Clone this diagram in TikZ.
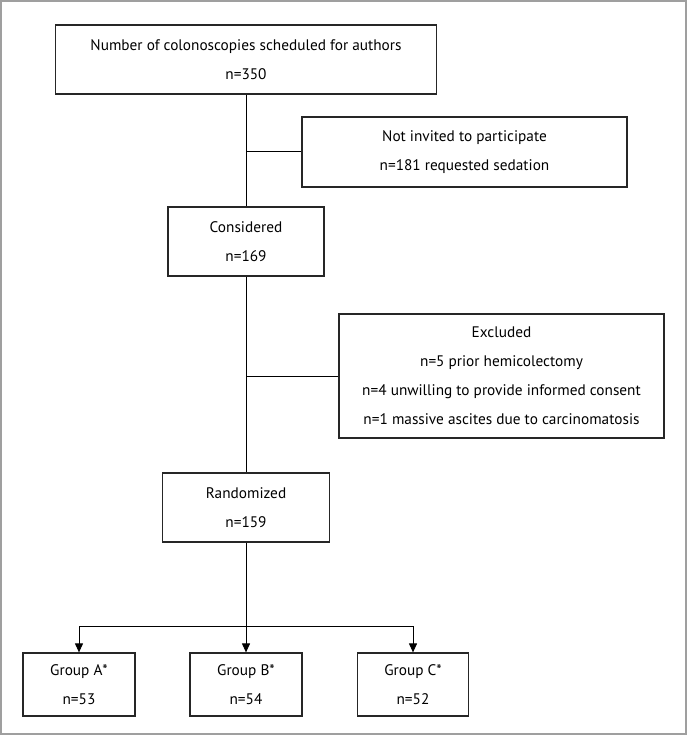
\documentclass[tikz,border=0pt]{standalone}
\usepackage{fontspec}
\setmainfont{PT Sans}
\usetikzlibrary{arrows.meta}
\begin{document}
\begin{tikzpicture}[x=1pt,y=-1pt,
    box/.style={draw=black!85,line width=1.2pt,fill=white,align=center,
      inner sep=0pt,font=\fontsize{15.3}{29}\selectfont},
    link/.style={line width=1pt},
    >={Triangle[length=9pt,width=8pt]}]
  \useasboundingbox (0,0) rectangle (688,735);
  \draw[gray!75,line width=1.5pt] (1,1) rectangle (686,734);
  % boxes
  \node[box,minimum width=381pt,minimum height=69pt] (sched) at (246,59.5)
    {Number of colonoscopies scheduled for authors\\n=350};
  \node[box,minimum width=325pt,minimum height=70pt] (notinv) at (464.5,152)
    {Not invited to participate\\n=181 requested sedation};
  \node[box,minimum width=156pt,minimum height=69pt] (cons) at (246,241.5)
    {Considered\\n=169};
  \node[box,minimum width=325pt,minimum height=124pt] (excl) at (501.5,376)
    {Excluded\\n=5 prior hemicolectomy\\n=4 unwilling to provide informed consent\\n=1 massive ascites due to carcinomatosis};
  \node[box,minimum width=167pt,minimum height=69pt] (rand) at (246,507.5)
    {Randomized\\n=159};
  \node[box,minimum width=112pt,minimum height=63pt] (grpA) at (79,684.5)
    {Group A*\\n=53};
  \node[box,minimum width=112pt,minimum height=63pt] (grpB) at (246,684.5)
    {Group B*\\n=54};
  \node[box,minimum width=111pt,minimum height=63pt] (grpC) at (413,684.5)
    {Group C*\\n=52};
  % connectors
  \coordinate (br1) at (246,152);
  \coordinate (br2) at (246,376);
  \coordinate (bus) at (246,626);
  \draw[link] (sched) -- (cons);
  \draw[link] (br1) -- (notinv);
  \draw[link] (cons) -- (rand);
  \draw[link] (br2) -- (excl);
  \draw[link,->] (rand) -- (grpB);
  \draw[link,->] (bus) -| (grpA);
  \draw[link,->] (bus) -| (grpC);
\end{tikzpicture}
\end{document}
